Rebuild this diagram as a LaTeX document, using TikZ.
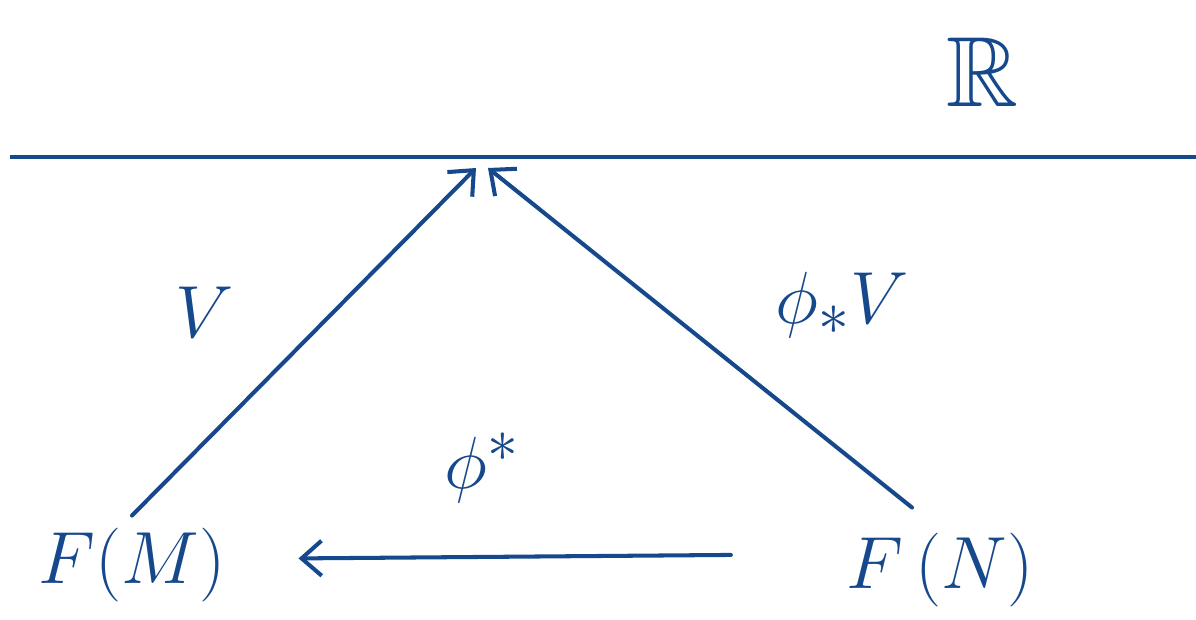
\documentclass[tikz,border=0pt]{standalone}
\usepackage{amssymb}
\usetikzlibrary{arrows.meta,positioning}
\definecolor{ink}{RGB}{22,72,140}
\tikzset{
  obj/.style={text=ink,font=\Huge,scale=1.69,inner sep=0pt},
  lbl/.style={text=ink,font=\Huge,scale=1.69,inner sep=0pt},
  map/.style={draw=ink,line width=2.3pt,line cap=round,-{Straight Barb[length=4mm,width=7mm,line width=2.3pt]}},
}
\begin{document}
\begin{tikzpicture}[x=0.02cm,y=-0.02cm]
  \useasboundingbox (0,0) rectangle (1196,619);
  % the real line
  \coordinate (lineL) at (10,157);
  \coordinate (lineR) at (1196,157);
  \draw[ink,line width=2.3pt] (lineL) -- (lineR);
  \node[obj,scale=1.35] (R) at (982,72) {$\mathbb{R}$};
  \coordinate (apexL) at (476,168);
  \coordinate (apexR) at (488,168);
  % objects
  \node[obj] (FM) at (132,565) {$F(M)$};
  \node[obj] (FN) at (940,570) {$F\,(N)$};
  % maps
  \draw[map] ([shift={(0,-12)}]FM.north) -- (apexL);
  \draw[map] ([shift={(-28,-25)}]FN.north) -- (apexR);
  \draw[map,shorten <=2.3cm,shorten >=1.45cm] ([shift={(0,-16)}]FN.west) -- ([shift={(0,-6)}]FM.east);
  % labels
  \node[lbl] (V) at (205,312) {$V$};
  \node[lbl] (pushV) at (842,305) {$\phi_*V$};
  \node[lbl] (pull) at (482,468) {$\phi^*$};
\end{tikzpicture}
\end{document}
